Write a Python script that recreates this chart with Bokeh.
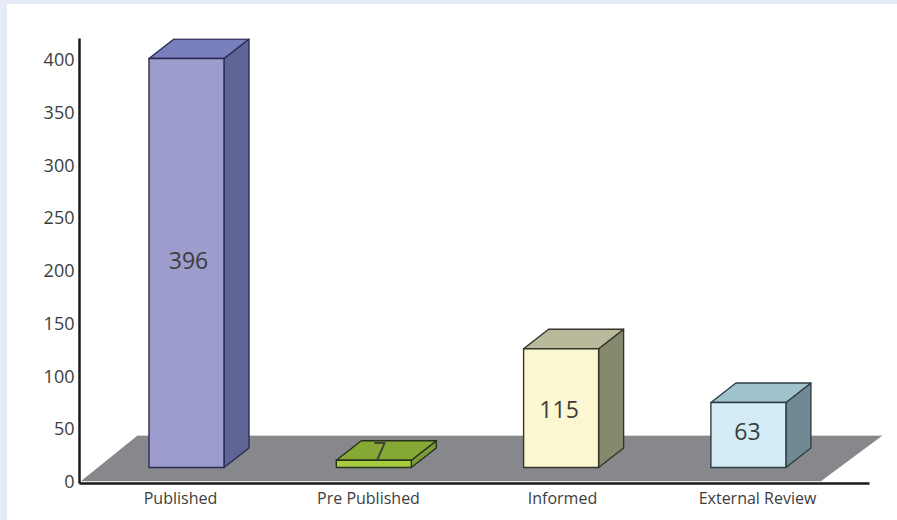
from bokeh.embed import file_html
from bokeh.models import ColumnDataSource, FixedTicker, Range1d
from bokeh.plotting import figure
from bokeh.resources import INLINE
from bokeh.core.properties import value

categories = ["Published", "Pre Published", "Informed", "External Review"]
values = [396, 7, 115, 63]
y_ticks = [0, 50, 100, 150, 200, 250, 300, 350, 400]

front_colors = ["#9c9ccd", "#a9cc3e", "#fbf7d0", "#d3ecf5"]
top_colors = ["#7a7fbd", "#86a835", "#b9b99b", "#9fc3cd"]
side_colors = ["#5f6596", "#7c9a37", "#87896f", "#6f8a94"]
outline_colors = ["#2b2b52", "#26331a", "#33342a", "#2f3d42"]
label_nudge_x = [2, 6, -2, -1]
label_nudge_y = [2, 12.5, -1, 3]
tick_nudge = [-6, -5, 1, 9]

PX_PER_UNIT = 1.055
FRONT_SCALE = 0.979
ZERO_PY = 481
BASE_PY = 467
FIRST_LEFT = 148.5
STEP = 187.3
BAR_W = 75
DEPTH_X = 25
DEPTH_PY = 19.5


def y_of(py):
    return (ZERO_PY - py) / PX_PER_UNIT


p = figure(
    width=890, height=516, output_backend="svg", toolbar_location=None,
    margin=(4, 0, 0, 7),
    x_range=Range1d(79, 897), y_range=Range1d(y_of(483), y_of(38)),
    min_border_left=72, min_border_right=0, min_border_top=34, min_border_bottom=37,
    background_fill_color="white", border_fill_color="white",
)
p.outline_line_color = None
p.grid.visible = False

# floor
p.patch([80, 137, 882, 820], [y_of(481), y_of(435), y_of(435), y_of(481)],
        fill_color="#87888c", line_color=None)
p.line([80, 820], [y_of(481), y_of(481)], line_color="#e3e3e3", line_width=1)
p.line([137, 882], [y_of(435), y_of(435)], line_color="#d8d8d8", line_width=1)

# bars
base = y_of(BASE_PY)
dy = DEPTH_PY / PX_PER_UNIT
lefts = [FIRST_LEFT + i * STEP for i in range(len(values))]
tops = [base + v * FRONT_SCALE for v in values]
centers = [l + BAR_W / 2 for l in lefts]

front = ColumnDataSource(dict(
    xs=[[l, l + BAR_W, l + BAR_W, l] for l in lefts],
    ys=[[base, base, t, t] for t in tops],
    fill=front_colors, line=outline_colors))
top = ColumnDataSource(dict(
    xs=[[l, l + BAR_W, l + BAR_W + DEPTH_X, l + DEPTH_X] for l in lefts],
    ys=[[t, t, t + dy, t + dy] for t in tops],
    fill=top_colors, line=outline_colors))
side = ColumnDataSource(dict(
    xs=[[l + BAR_W, l + BAR_W + DEPTH_X, l + BAR_W + DEPTH_X, l + BAR_W] for l in lefts],
    ys=[[base, base + dy, t + dy, t] for t in tops],
    fill=side_colors, line=outline_colors))
for src in (side, top, front):
    p.patches("xs", "ys", source=src, fill_color="fill", line_color="line",
              line_width=1.4, line_join="round")

labels = ColumnDataSource(dict(
    x=[c + n for c, n in zip(centers, label_nudge_x)],
    y=[(base + t) / 2 + n for t, n in zip(tops, label_nudge_y)],
    text=[str(v) for v in values]))
p.text("x", "y", text="text", source=labels, text_align="center", text_baseline="middle",
       text_font=value("Open Sans"), text_font_size="23px", text_color="#3d3d3d")

# axes
tick_positions = [round(c + n) for c, n in zip(centers, tick_nudge)]
xa = p.xaxis[0]
xa.ticker = FixedTicker(ticks=tick_positions)
xa.major_label_overrides = {t: c for t, c in zip(tick_positions, categories)}
xa.bounds = (78, 869)
ya = p.yaxis[0]
ya.ticker = FixedTicker(ticks=y_ticks)
ya.bounds = (y_of(484), y_of(38))
for ax in (xa, ya):
    ax.major_tick_line_color = None
    ax.minor_tick_line_color = None
    ax.major_tick_out = 0
    ax.minor_tick_out = 0
    ax.axis_line_color = "#1a1a1a"
    ax.axis_line_width = 2.5
    ax.major_label_text_color = "#3d3d3d"
    ax.major_label_text_font = "Open Sans"
xa.major_label_text_font_size = "16px"
xa.major_label_standoff = 3
ya.major_label_text_font_size = "18px"
ya.major_label_standoff = 5

html = file_html(p, INLINE)
strip = ("<style>html{background:linear-gradient(#e4ebf7 4px,transparent 4px),"
         "linear-gradient(90deg,#e4ebf7 7px,#ffffff 7px);}</style>")
html = html.replace("</head>", strip + "</head>", 1)
open("out.html", "w").write(html)
